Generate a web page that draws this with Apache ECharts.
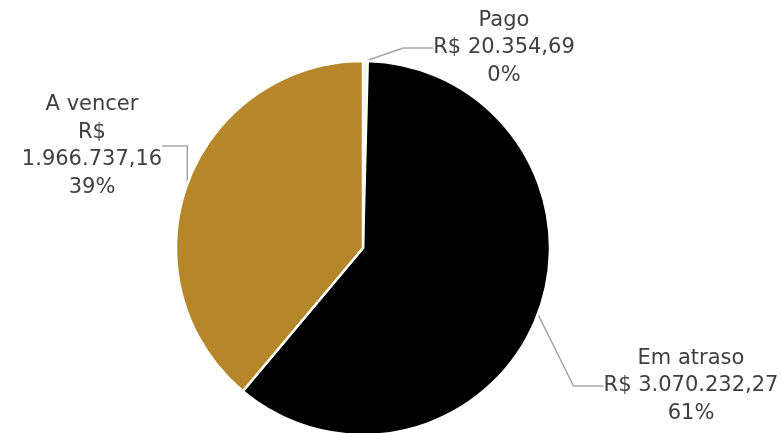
<!DOCTYPE html>
<html>
<head>
<meta charset="utf-8">
<script src="https://cdn.jsdelivr.net/npm/echarts@6/dist/echarts.min.js"></script>
<style>
  html, body { margin: 0; padding: 0; background: #fff; }
  #chart { width: 782px; height: 433px; }
</style>
</head>
<body>
<div id="chart"></div>
<script>
const categories = ["Pago", "Em atraso", "A vencer"];
const values = [20354.69, 3070232.27, 1966737.16];
const valueLabels = ["R$ 20.354,69", "R$ 3.070.232,27", "R$\n1.966.737,16"];
const percentLabels = ["0%", "61%", "39%"];
const colors = ["#EDEDED", "#000000", "#B5862A"];

// where each label block sits (centre of the text)
const labelSpots = [
  { x: 504, y: 48 },
  { x: 691, y: 386 },
  { x: 92, y: 146 }
];

const chartDom = document.getElementById("chart");
const myChart = echarts.init(chartDom);

const option = {
  animation: false,
  series: [
    {
      type: "pie",
      center: [363, 248],
      radius: 187,
      startAngle: 90,
      clockwise: true,
      avoidLabelOverlap: false,
      data: categories.map((name, i) => ({
        name: name,
        value: values[i],
        itemStyle: { color: colors[i] }
      })),
      itemStyle: {
        borderColor: "#ffffff",
        borderWidth: 2.5
      },
      label: {
        show: true,
        formatter: (p) =>
          p.name + "\n" + valueLabels[p.dataIndex] + "\n" + percentLabels[p.dataIndex],
        color: "#404040",
        fontFamily: "DejaVu Sans",
        fontSize: 21,
        lineHeight: 27.5,
        align: "center"
      },
      labelLine: {
        show: true,
        lineStyle: { color: "#A6A6A6", width: 1.5 }
      },
      labelLayout: (params) => ({
        x: labelSpots[params.dataIndex].x,
        y: labelSpots[params.dataIndex].y,
        align: "center",
        verticalAlign: "middle"
      })
    }
  ]
};

myChart.setOption(option);
</script>
</body>
</html>
